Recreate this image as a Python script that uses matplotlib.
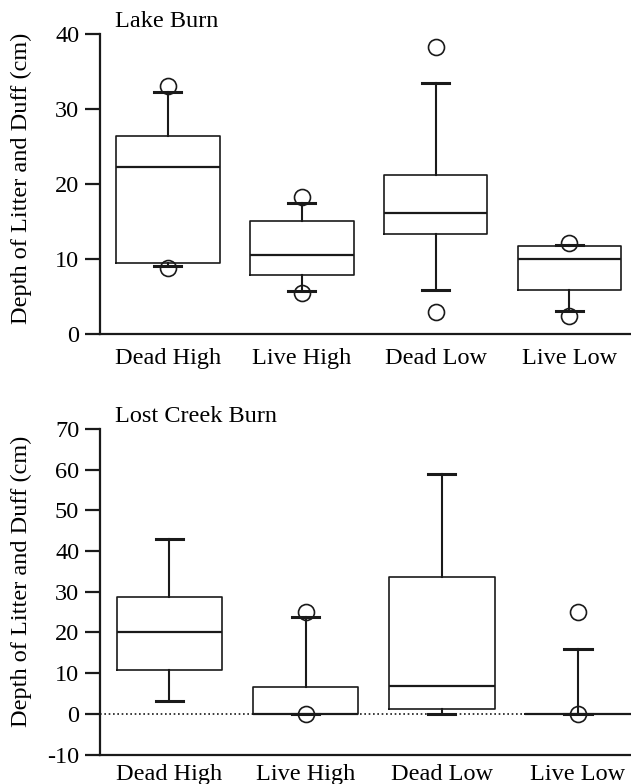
import numpy as np
import matplotlib
matplotlib.use("Agg")
import matplotlib.pyplot as plt

plt.rcParams['font.family'] = ['Liberation Serif', 'DejaVu Serif']
plt.rcParams['axes.unicode_minus'] = False

groups = ['Dead High', 'Live High', 'Dead Low', 'Live Low']

# Lake Burn
lake_q1 = [9.4, 7.8, 13.3, 5.8]
lake_med = [22.2, 10.5, 16.1, 10.0]
lake_q3 = [26.4, 15.0, 21.2, 11.7]
lake_lo = [9.0, 5.7, 5.9, 3.0]
lake_hi = [32.2, 17.5, 33.5, 11.8]
lake_out = [[33.1, 8.8], [18.2, 5.5], [38.2, 2.9], [12.1, 2.4]]

# Lost Creek Burn
lost_q1 = [10.7, 0.0, 1.3, 0.0]
lost_med = [20.1, 0.0, 6.8, 0.0]
lost_q3 = [28.7, 6.7, 33.7, 0.0]
lost_lo = [3.1, 0.0, 0.0, 0.0]
lost_hi = [43.0, 23.7, 58.9, 16.0]
lost_out = [[], [25.0, 0.0], [], [25.0, 0.0]]

col = '#1a1a1a'
fs = 17.5


def make_stats(q1, med, q3, lo, hi, out):
    stats = []
    for i in range(len(groups)):
        stats.append({'q1': q1[i], 'med': med[i], 'q3': q3[i],
                      'whislo': lo[i], 'whishi': hi[i],
                      'fliers': np.array(out[i]), 'label': groups[i]})
    return stats


def draw_panel(ax, stats, title, ylim, yticks, xlim, xpad):
    ax.bxp(stats, positions=[1, 2, 3, 4], widths=0.775, capwidths=0.2,
           boxprops=dict(color=col, linewidth=1.2),
           whiskerprops=dict(color=col, linewidth=1.5),
           capprops=dict(color=col, linewidth=2.2),
           medianprops=dict(color=col, linewidth=1.6),
           flierprops=dict(marker='o', markerfacecolor='none',
                           markeredgecolor=col, markersize=11.5,
                           markeredgewidth=1.2),
           showfliers=True)
    ax.set_xlim(*xlim)
    ax.set_ylim(*ylim)
    ax.set_yticks(yticks)
    ax.set_xticks([1, 2, 3, 4])
    ax.set_xticklabels(groups)
    for s in ['top', 'right']:
        ax.spines[s].set_visible(False)
    for s in ['left', 'bottom']:
        ax.spines[s].set_linewidth(1.6)
        ax.spines[s].set_color(col)
    ax.tick_params(axis='y', length=11, width=1.6, color=col,
                   labelsize=fs, pad=4)
    ax.tick_params(axis='x', length=0, labelsize=fs, pad=xpad)
    ax.text(0.028, 1.022, title, transform=ax.transAxes, fontsize=fs,
            va='baseline', ha='left')


fig = plt.figure(figsize=(6.31, 7.84), dpi=100)

ax1 = fig.add_axes([0.1585, 0.574, 0.8415, 0.383])
draw_panel(ax1, make_stats(lake_q1, lake_med, lake_q3, lake_lo, lake_hi, lake_out),
           'Lake Burn', (0, 40), [0, 10, 20, 30, 40], (0.493, 4.46), 10)

ax2 = fig.add_axes([0.1585, 0.0376, 0.8415, 0.4154])
ax2.axhline(0, color=col, linestyle=(0, (1, 1.6)), linewidth=1.2, zorder=0)
draw_panel(ax2, make_stats(lost_q1, lost_med, lost_q3, lost_lo, lost_hi, lost_out),
           'Lost Creek Burn', (-10, 70), [-10, 0, 10, 20, 30, 40, 50, 60, 70],
           (0.49, 4.39), 7)

fig.text(21 / 631, 0.772, 'Depth of Litter and Duff (cm)', rotation=90,
         fontsize=fs, ha='center', va='center')
fig.text(21 / 631, 0.258, 'Depth of Litter and Duff (cm)', rotation=90,
         fontsize=fs, ha='center', va='center')

fig.savefig('out.png', dpi=100)
